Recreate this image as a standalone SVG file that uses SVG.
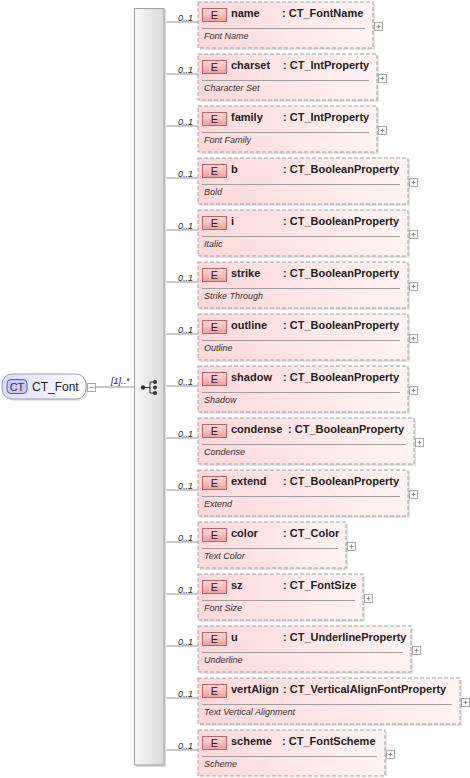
<svg xmlns="http://www.w3.org/2000/svg" width="470" height="778" viewBox="0 0 470 778">
<defs>
<linearGradient id="gEl" x1="0" y1="0" x2="1" y2="0"><stop offset="0" stop-color="#fdd9d9"/><stop offset="1" stop-color="#fff3f3"/></linearGradient>
<linearGradient id="gE" x1="0" y1="0" x2="0" y2="1"><stop offset="0" stop-color="#fcdcdc"/><stop offset="1" stop-color="#ee9c9c"/></linearGradient>
<linearGradient id="gCT" x1="0" y1="0" x2="1" y2="0"><stop offset="0" stop-color="#dcdcf6"/><stop offset="1" stop-color="#ffffff"/></linearGradient>
<linearGradient id="gBar" x1="0" y1="0" x2="1" y2="0"><stop offset="0" stop-color="#f7f7f7"/><stop offset="1" stop-color="#dadada"/></linearGradient>
<g id="plus"><rect x="0.5" y="0.5" width="8" height="8" fill="#fff" stroke="#a8a8a8"/><path d="M2.5 4.5h4M4.5 2.5v4" stroke="#909090" fill="none"/></g>
</defs>
<style>
.box{fill:url(#gEl);stroke:#a0a0a0;stroke-dasharray:4 2}
.shd{fill:#e4e4e4}
.eb{fill:url(#gE);stroke:#b86464}
.et{font:11px "Liberation Sans",Arial,sans-serif;fill:#222;text-anchor:middle}
.nm{font:bold 11px "Liberation Sans",Arial,sans-serif;fill:#222}
.ds{font:italic 9px "Liberation Sans",Arial,sans-serif;fill:#333}
.sep{stroke:#a0a0a0;fill:none}
.ln{stroke:#909090;fill:none}
.oc{font:italic 9px "Liberation Sans",Arial,sans-serif;fill:#222}
</style>
<g id="connectors">
<path class="ln" d="M95 387H134"/>
<text class="oc" x="111" y="384">[1]..*</text>
<path class="ln" d="M164 22H198M164 74H198M164 126H198M164 178H198M164 230H198M164 282H198M164 334H198M164 386H198M164 438H198M164 490H198M164 542H198M164 594H198M164 646H198M164 698H198M164 750H198"/>
<g class="oc">
<text x="178" y="21">0..1</text><text x="178" y="73">0..1</text><text x="178" y="125">0..1</text><text x="178" y="177">0..1</text><text x="178" y="229">0..1</text><text x="178" y="281">0..1</text><text x="178" y="333">0..1</text><text x="178" y="385">0..1</text><text x="178" y="437">0..1</text><text x="178" y="489">0..1</text><text x="178" y="541">0..1</text><text x="178" y="593">0..1</text><text x="178" y="645">0..1</text><text x="178" y="697">0..1</text><text x="178" y="749">0..1</text>
</g>
</g>
<g id="CT_Font">
<rect x="4" y="376" width="84" height="25" rx="10" fill="#e6e6e6"/>
<rect x="2" y="374" width="84" height="25" rx="10" fill="url(#gCT)" stroke="#9a9ab4"/>
<rect x="7" y="379.5" width="20" height="14" rx="4" fill="#c9c9f3" stroke="#5a5ab0"/>
<text x="17" y="390.5" font-family="Liberation Sans,Arial,sans-serif" font-size="11" fill="#333" text-anchor="middle">CT</text>
<text x="32" y="391" font-family="Liberation Sans,Arial,sans-serif" font-size="12" fill="#222">CT_Font</text>
<rect x="87.5" y="383.5" width="8" height="8" fill="#fff" stroke="#a8a8a8"/>
<path d="M89.5 387.5h4" stroke="#909090"/>
</g>
<g id="compositor">
<rect x="136" y="10" width="30" height="757" fill="#dcdcdc"/>
<rect x="134.5" y="8.5" width="29.5" height="756.5" fill="url(#gBar)" stroke="#a0a0a0"/>
<path d="M143 387.5H150M150 382V393M150 382H155M150 393H155" stroke="#333" fill="none"/>
<circle cx="143" cy="387.5" r="2.2" fill="#333"/>
<circle cx="155" cy="382" r="2" fill="#333"/><circle cx="155" cy="387.5" r="2" fill="#333"/><circle cx="155" cy="393" r="2" fill="#333"/>
</g>
<g id="el-name"><rect class="shd" x="200" y="4" width="175" height="46"/><rect class="box" x="198" y="2" width="175" height="46"/><rect class="eb" x="202.5" y="8.5" width="24" height="13"/><text class="et" x="214.5" y="19">E</text><text class="nm" x="231" y="17">name</text><text class="nm" x="282" y="17">: CT_FontName</text><path class="sep" d="M202 28.5H365"/><text class="ds" x="204" y="39">Font Name</text><use href="#plus" x="374" y="22"/></g>
<g id="el-charset"><rect class="shd" x="200" y="56" width="179" height="46"/><rect class="box" x="198" y="54" width="179" height="46"/><rect class="eb" x="202.5" y="60.5" width="24" height="13"/><text class="et" x="214.5" y="71">E</text><text class="nm" x="231" y="69">charset</text><text class="nm" x="283" y="69">: CT_IntProperty</text><path class="sep" d="M202 80.5H369"/><text class="ds" x="204" y="91">Character Set</text><use href="#plus" x="378" y="74"/></g>
<g id="el-family"><rect class="shd" x="200" y="108" width="179" height="46"/><rect class="box" x="198" y="106" width="179" height="46"/><rect class="eb" x="202.5" y="112.5" width="24" height="13"/><text class="et" x="214.5" y="123">E</text><text class="nm" x="231" y="121">family</text><text class="nm" x="283" y="121">: CT_IntProperty</text><path class="sep" d="M202 132.5H369"/><text class="ds" x="204" y="143">Font Family</text><use href="#plus" x="378" y="126"/></g>
<g id="el-b"><rect class="shd" x="200" y="160" width="210" height="46"/><rect class="box" x="198" y="158" width="210" height="46"/><rect class="eb" x="202.5" y="164.5" width="24" height="13"/><text class="et" x="214.5" y="175">E</text><text class="nm" x="231" y="173">b</text><text class="nm" x="283" y="173">: CT_BooleanProperty</text><path class="sep" d="M202 184.5H400"/><text class="ds" x="204" y="195">Bold</text><use href="#plus" x="409" y="178"/></g>
<g id="el-i"><rect class="shd" x="200" y="212" width="210" height="46"/><rect class="box" x="198" y="210" width="210" height="46"/><rect class="eb" x="202.5" y="216.5" width="24" height="13"/><text class="et" x="214.5" y="227">E</text><text class="nm" x="231" y="225">i</text><text class="nm" x="283" y="225">: CT_BooleanProperty</text><path class="sep" d="M202 236.5H400"/><text class="ds" x="204" y="247">Italic</text><use href="#plus" x="409" y="230"/></g>
<g id="el-strike"><rect class="shd" x="200" y="264" width="210" height="46"/><rect class="box" x="198" y="262" width="210" height="46"/><rect class="eb" x="202.5" y="268.5" width="24" height="13"/><text class="et" x="214.5" y="279">E</text><text class="nm" x="231" y="277">strike</text><text class="nm" x="283" y="277">: CT_BooleanProperty</text><path class="sep" d="M202 288.5H400"/><text class="ds" x="204" y="299">Strike Through</text><use href="#plus" x="409" y="282"/></g>
<g id="el-outline"><rect class="shd" x="200" y="316" width="210" height="46"/><rect class="box" x="198" y="314" width="210" height="46"/><rect class="eb" x="202.5" y="320.5" width="24" height="13"/><text class="et" x="214.5" y="331">E</text><text class="nm" x="231" y="329">outline</text><text class="nm" x="283" y="329">: CT_BooleanProperty</text><path class="sep" d="M202 340.5H400"/><text class="ds" x="204" y="351">Outline</text><use href="#plus" x="409" y="334"/></g>
<g id="el-shadow"><rect class="shd" x="200" y="368" width="210" height="46"/><rect class="box" x="198" y="366" width="210" height="46"/><rect class="eb" x="202.5" y="372.5" width="24" height="13"/><text class="et" x="214.5" y="383">E</text><text class="nm" x="231" y="381">shadow</text><text class="nm" x="283" y="381">: CT_BooleanProperty</text><path class="sep" d="M202 392.5H400"/><text class="ds" x="204" y="403">Shadow</text><use href="#plus" x="409" y="386"/></g>
<g id="el-condense"><rect class="shd" x="200" y="420" width="216" height="46"/><rect class="box" x="198" y="418" width="216" height="46"/><rect class="eb" x="202.5" y="424.5" width="24" height="13"/><text class="et" x="214.5" y="435">E</text><text class="nm" x="231" y="433">condense</text><text class="nm" x="288" y="433">: CT_BooleanProperty</text><path class="sep" d="M202 444.5H406"/><text class="ds" x="204" y="455">Condense</text><use href="#plus" x="415" y="438"/></g>
<g id="el-extend"><rect class="shd" x="200" y="472" width="210" height="46"/><rect class="box" x="198" y="470" width="210" height="46"/><rect class="eb" x="202.5" y="476.5" width="24" height="13"/><text class="et" x="214.5" y="487">E</text><text class="nm" x="231" y="485">extend</text><text class="nm" x="283" y="485">: CT_BooleanProperty</text><path class="sep" d="M202 496.5H400"/><text class="ds" x="204" y="507">Extend</text><use href="#plus" x="409" y="490"/></g>
<g id="el-color"><rect class="shd" x="200" y="524" width="148" height="46"/><rect class="box" x="198" y="522" width="148" height="46"/><rect class="eb" x="202.5" y="528.5" width="24" height="13"/><text class="et" x="214.5" y="539">E</text><text class="nm" x="231" y="537">color</text><text class="nm" x="283" y="537">: CT_Color</text><path class="sep" d="M202 548.5H338"/><text class="ds" x="204" y="559">Text Color</text><use href="#plus" x="347" y="542"/></g>
<g id="el-sz"><rect class="shd" x="200" y="576" width="165" height="46"/><rect class="box" x="198" y="574" width="165" height="46"/><rect class="eb" x="202.5" y="580.5" width="24" height="13"/><text class="et" x="214.5" y="591">E</text><text class="nm" x="231" y="589">sz</text><text class="nm" x="283" y="589">: CT_FontSize</text><path class="sep" d="M202 600.5H355"/><text class="ds" x="204" y="611">Font Size</text><use href="#plus" x="364" y="594"/></g>
<g id="el-u"><rect class="shd" x="200" y="628" width="213" height="46"/><rect class="box" x="198" y="626" width="213" height="46"/><rect class="eb" x="202.5" y="632.5" width="24" height="13"/><text class="et" x="214.5" y="643">E</text><text class="nm" x="231" y="641">u</text><text class="nm" x="283" y="641">: CT_UnderlineProperty</text><path class="sep" d="M202 652.5H403"/><text class="ds" x="204" y="663">Underline</text><use href="#plus" x="412" y="646"/></g>
<g id="el-vertAlign"><rect class="shd" x="200" y="680" width="262" height="46"/><rect class="box" x="198" y="678" width="262" height="46"/><rect class="eb" x="202.5" y="684.5" width="24" height="13"/><text class="et" x="214.5" y="695">E</text><text class="nm" x="231" y="693">vertAlign</text><text class="nm" x="283" y="693">: CT_VerticalAlignFontProperty</text><path class="sep" d="M202 704.5H452"/><text class="ds" x="204" y="715">Text Vertical Alignment</text><use href="#plus" x="461" y="698"/></g>
<g id="el-scheme"><rect class="shd" x="200" y="732" width="187" height="44"/><rect class="box" x="198" y="730" width="187" height="46"/><rect class="eb" x="202.5" y="736.5" width="24" height="13"/><text class="et" x="214.5" y="747">E</text><text class="nm" x="231" y="745">scheme</text><text class="nm" x="282" y="745">: CT_FontScheme</text><path class="sep" d="M202 756.5H377"/><text class="ds" x="204" y="767">Scheme</text><use href="#plus" x="386" y="750"/></g>
</svg>
